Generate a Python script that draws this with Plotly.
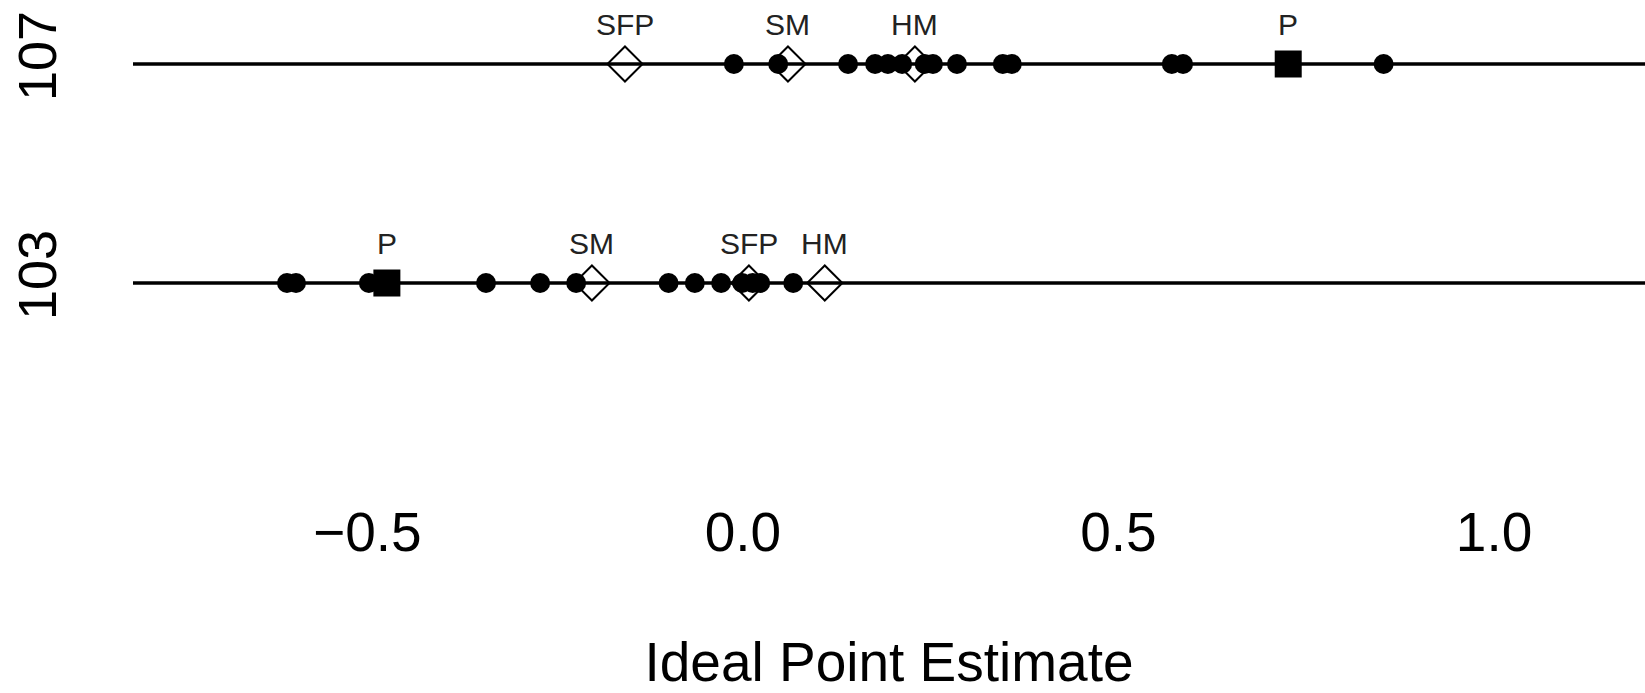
import plotly.graph_objects as go

# Ideal point estimates for each Congress
congresses = [107, 103]

member_points = {
    107: [-0.012, 0.047, 0.140, 0.176, 0.193, 0.212, 0.242, 0.253, 0.285,
          0.346, 0.358, 0.571, 0.586, 0.853],
    103: [-0.607, -0.595, -0.498, -0.342, -0.270, -0.222, -0.099, -0.064,
          -0.029, -0.001, 0.013, 0.023, 0.067],
}

# Summary positions (diamonds) and the P marker (square)
summary_labels = ["SFP", "SM", "HM"]
summary_points = {
    107: [-0.157, 0.060, 0.229],
    103: [0.008, -0.201, 0.109],
}
p_label = "P"
p_points = {107: 0.726, 103: -0.474}

x_ticks = [-0.5, 0.0, 0.5, 1.0]
x_tick_text = ["\u22120.5", "0.0", "0.5", "1.0"]
y_tick_text = ["107", "103"]

FONT = "Liberation Sans, Arial, sans-serif"

fig = go.Figure()

for c in congresses:
    fig.add_hline(y=c, line=dict(color="black", width=3.3), layer="below")

for c in congresses:
    fig.add_trace(go.Scatter(
        x=member_points[c], y=[c] * len(member_points[c]),
        mode="markers", marker=dict(symbol="circle", size=20, color="black"),
        showlegend=False, hoverinfo="x"))
    fig.add_trace(go.Scatter(
        x=summary_points[c], y=[c] * len(summary_points[c]),
        mode="markers",
        marker=dict(symbol="diamond-open", size=27, color="black",
                    line=dict(width=2, color="black")),
        showlegend=False, hoverinfo="x"))
    fig.add_trace(go.Scatter(
        x=[p_points[c]], y=[c], mode="markers",
        marker=dict(symbol="square", size=27, color="black"),
        showlegend=False, hoverinfo="x"))
    for lab, xv in zip(summary_labels + [p_label],
                       summary_points[c] + [p_points[c]]):
        fig.add_annotation(x=xv, y=c, text=lab, showarrow=False,
                           yshift=40, font=dict(family=FONT, size=30, color="#222"))

fig.update_layout(
    width=1645, height=693,
    margin=dict(l=133, r=0, t=0, b=198),
    paper_bgcolor="white", plot_bgcolor="white",
    font=dict(family=FONT, color="black"),
    xaxis=dict(range=[-0.812, 1.201], tickvals=x_ticks, ticktext=x_tick_text,
               showgrid=False, zeroline=False, showline=False, ticks="",
               automargin=False,
               tickfont=dict(size=55), ticklabelstandoff=0,
               title=dict(text="Ideal Point Estimate", font=dict(size=55),
                          standoff=83)),
    yaxis=dict(range=[99.128, 108.169], tickvals=congresses, ticktext=y_tick_text,
               showgrid=False, zeroline=False, showline=False, ticks="",
               automargin=False,
               tickangle=-90, tickfont=dict(size=54), ticklabelstandoff=65),
)

fig.write_html("out.html")
